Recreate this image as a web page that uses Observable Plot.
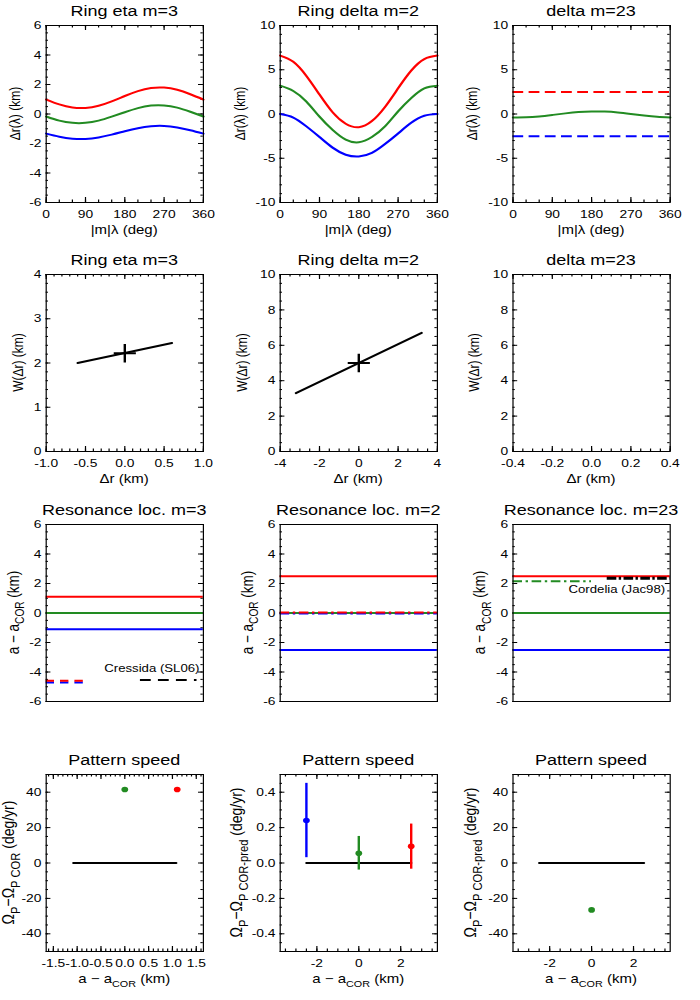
<!DOCTYPE html>
<html><head><meta charset="utf-8">
<script src="https://cdn.jsdelivr.net/npm/d3@7"></script>
<script src="https://cdn.jsdelivr.net/npm/@observablehq/plot@0.6"></script>
<style>
html,body{margin:0;padding:0;background:#fff;overflow:hidden;}
#wrap{position:relative;width:583.333px;height:1000px;transform:scaleX(1.2);transform-origin:0 0;}
#wrap svg{position:absolute;}
</style></head><body><div id="wrap"></div>
<script>
// ---------------- data ----------------
const lam = [0, 30, 60, 90, 120, 150, 180, 210, 240, 270, 300, 330, 360];
// Ring eta m=3 : delta r(lambda)
const etaRed   = [0.98, 0.65, 0.44, 0.41, 0.56, 0.86, 1.22, 1.55, 1.76, 1.79, 1.64, 1.34, 0.98];
const etaGreen = [-0.17, -0.45, -0.60, -0.60, -0.45, -0.18, 0.12, 0.40, 0.57, 0.58, 0.43, 0.15, -0.17];
const etaBlue  = [-1.33, -1.54, -1.67, -1.69, -1.59, -1.40, -1.17, -0.96, -0.83, -0.81, -0.91, -1.10, -1.33];
// Ring delta m=2
const delRed   = [6.6, 5.9, 4.3, 2.2, 0.2, -1.1, -1.5, -0.8, 0.8, 2.9, 4.9, 6.2, 6.6];
const delGreen = [3.2, 2.6, 1.4, -0.3, -1.8, -2.9, -3.2, -2.6, -1.4, 0.3, 1.8, 2.9, 3.2];
const delBlue  = [0.0, -0.4, -1.4, -2.6, -3.8, -4.6, -4.8, -4.4, -3.4, -2.2, -1.0, -0.2, 0.0];
// delta m=23
const m23Green = [-0.39, -0.38, -0.28, -0.11, 0.07, 0.22, 0.29, 0.28, 0.18, 0.01, -0.17, -0.32, -0.39];
const m23Edges = [2.5, -2.5]; // red, blue (dashed)
// W(delta r)
const etaWdr = [-0.6, 0.6], etaW = [2.0, 2.45], etaWc = [0, 2.22];
const delWdr = [-3.2, 3.2], delW = [3.3, 6.7], delWc = [0, 5.0];
// Resonance locations (red, green, blue)
const resEta = [1.1, 0, -1.1];
const resDel = [2.5, 0, -2.5];
const resM23 = [2.5, 0, -2.5];
const cressidaRB = {x: [0, 0.25], y: [-4.6, -4.72]};
const cressidaSat = {x: [0.6, 0.96], y: -4.55, label: "Cressida (SL06)", lx: 0.975, ly: -3.75};
const delDashDot = [0.03, -0.03];
const cordeliaGreen = {x: [0, 0.5], y: 2.15};
const cordeliaSat = {x: [0.6, 1.0], y: 2.35, label: "Cordelia (Jac98)", lx: 0.968, ly: 1.6};
// Pattern speed
const psEtaLine = [-1.08, 1.08];
const psEtaX = [0, 1.1], psEtaY = [41.5, 41.5];
const psDelLine = [-2.5, 2.5];
const psDelX = [-2.5, 0, 2.5], psDelY = [0.24, 0.055, 0.095];
const psDelLo = [0.03, -0.04, -0.035], psDelHi = [0.45, 0.15, 0.22];
const psM23Line = [-2.5, 2.5];
const psM23X = [0], psM23Y = [-26.5];

const RED = "#ff0000", GREEN = "#228b22", BLUE = "#0000ff", BLACK = "#000000";
const COLORS3 = [RED, GREEN, BLUE];
const FONT = "'Liberation Sans', Arial, Helvetica, sans-serif";

// ---------------- layout ----------------
const FW = 131, FH = 177;
const ML = 38, MR = 16, MT = 25, MB = 45;
const colLeft = [37.5, 232.5, 427];
const rowTop = [25, 274, 524, 774];
const wrap = document.getElementById("wrap");

function rich(sel, parts, size, ratio = 0.72) {
  let shifted = 0;
  for (const [t, sub] of parts) {
    const target = sub ? size * 0.35 : 0;
    sel.append("tspan").attr("font-size", sub ? size * ratio : size).attr("dy", target - shifted).text(t);
    shifted = target;
  }
}

function panel(cfg) {
  const marks = [];
  if (cfg.xTicks) {
    for (const [vals, len] of [[cfg.xMinor, 2.5], [cfg.xTicks, 5]]) {
      marks.push(Plot.ruleX(vals, {insetTop: FH - len, stroke: BLACK, strokeWidth: 1}));
      marks.push(Plot.ruleX(vals, {insetBottom: FH - len, stroke: BLACK, strokeWidth: 1}));
    }
    marks.push(Plot.axisX({ticks: cfg.xTicks, tickSize: 0, tickPadding: 7.5, tickFormat: cfg.xFmt || (d => String(d)), label: null}));
  }
  for (const [vals, len] of [[cfg.yMinor, 2], [cfg.yTicks, 4]]) {
    marks.push(Plot.ruleY(vals, {insetLeft: FW - len, stroke: BLACK, strokeWidth: 1}));
    marks.push(Plot.ruleY(vals, {insetRight: FW - len, stroke: BLACK, strokeWidth: 1}));
  }
  marks.push(Plot.axisY({ticks: cfg.yTicks, tickSize: 0, tickPadding: 4, tickFormat: cfg.yFmt || (d => String(d)), label: null}));
  marks.push(...cfg.marks);
  marks.push(Plot.frame({stroke: BLACK, strokeWidth: 1}));
  const svg = Plot.plot({
    width: ML + FW + MR, height: MT + FH + MB,
    marginLeft: ML, marginRight: MR, marginTop: MT, marginBottom: MB,
    x: cfg.xTicks ? {domain: cfg.xDomain} : {domain: cfg.xDomain, axis: null},
    y: {domain: cfg.yDomain},
    color: {type: "identity"},
    style: {fontFamily: FONT, fontSize: "11.5px", background: "transparent", color: "#000", overflow: "visible"},
    marks
  });
  svg.style.left = (colLeft[cfg.col] - ML) + "px";
  svg.style.top = (rowTop[cfg.row] - MT) + "px";
  wrap.appendChild(svg);
  const s = d3.select(svg);
  const g = s.append("g").attr("font-family", FONT).attr("fill", "#000");
  g.append("text").attr("x", ML + FW / 2).attr("y", MT - 9).attr("text-anchor", "middle")
    .attr("font-size", 15).text(cfg.title);
  const yl = g.append("text").attr("text-anchor", "middle").style("white-space", "pre")
    .attr("transform", `translate(${ML + cfg.yOff},${MT + FH / 2}) rotate(-90)`);
  rich(yl, cfg.yLabel, cfg.yFont || 12, cfg.subRatio || 0.72);
  if (cfg.xLabel) {
    const xl = g.append("text").attr("text-anchor", "middle").style("white-space", "pre")
      .attr("x", ML + FW / 2).attr("y", MT + FH + 32);
    rich(xl, cfg.xLabel, 12.5);
  }
}

const rng = (a, b, s) => d3.range(0, Math.round((b - a) / s) + 1).map(i => +(a + i * s).toFixed(6));
const f1 = d => d.toFixed(1);
const curve = (ys, c) => lam.map((x, i) => ({x, y: ys[i], c}));
const line2 = (xs, ys, c) => xs.map((x, i) => ({x, y: ys[i], c}));

// Row 1
const row1X = {xDomain: [0, 360], xTicks: [0, 90, 180, 270, 360], xMinor: rng(0, 360, 30), xLabel: [["|m|λ (deg)"]]};
panel({...row1X, col: 0, row: 0, title: "Ring eta m=3", yDomain: [-6, 6], yTicks: rng(-6, 6, 2), yMinor: rng(-6, 6, 0.5),
  yLabel: [["Δr(λ) (km)"]], yOff: -21,
  marks: [[etaRed, RED], [etaGreen, GREEN], [etaBlue, BLUE]].map(([ys, c]) =>
    Plot.line(curve(ys, c), {x: "x", y: "y", stroke: "c", strokeWidth: 2, curve: "natural"}))});
panel({...row1X, col: 1, row: 0, title: "Ring delta m=2", yDomain: [-10, 10], yTicks: rng(-10, 10, 5), yMinor: rng(-10, 10, 1),
  yLabel: [["Δr(λ) (km)"]], yOff: -29,
  marks: [[delRed, RED], [delGreen, GREEN], [delBlue, BLUE]].map(([ys, c]) =>
    Plot.line(curve(ys, c), {x: "x", y: "y", stroke: "c", strokeWidth: 2, curve: "natural"}))});
panel({...row1X, col: 2, row: 0, title: "delta m=23", yDomain: [-10, 10], yTicks: rng(-10, 10, 5), yMinor: rng(-10, 10, 1),
  yLabel: [["Δr(λ) (km)"]], yOff: -29.5,
  marks: [
    Plot.ruleY(m23Edges.map((y, i) => ({y, c: [RED, BLUE][i]})), {y: "y", stroke: "c", strokeWidth: 2, strokeDasharray: "9,4.5"}),
    Plot.line(curve(m23Green, GREEN), {x: "x", y: "y", stroke: "c", strokeWidth: 2, curve: "natural"})
  ]});

// Row 2
panel({col: 0, row: 1, title: "Ring eta m=3", xDomain: [-1, 1], xTicks: rng(-1, 1, 0.5), xMinor: rng(-1, 1, 0.1), xFmt: f1,
  yDomain: [0, 4], yTicks: rng(0, 4, 1), yMinor: rng(0, 4, 0.2), yLabel: [["W(Δr) (km)"]], yOff: -19, xLabel: [["Δr (km)"]],
  marks: [
    Plot.line(line2(etaWdr, etaW, BLACK), {x: "x", y: "y", stroke: "c", strokeWidth: 2}),
    Plot.dot([{x: etaWc[0], y: etaWc[1]}], {x: "x", y: "y", symbol: "plus", r: 6, stroke: BLACK, strokeWidth: 2})
  ]});
panel({col: 1, row: 1, title: "Ring delta m=2", xDomain: [-4, 4], xTicks: rng(-4, 4, 2), xMinor: rng(-4, 4, 0.5),
  yDomain: [0, 10], yTicks: rng(0, 10, 2), yMinor: rng(0, 10, 0.5), yLabel: [["W(Δr) (km)"]], yOff: -27.5, xLabel: [["Δr (km)"]],
  marks: [
    Plot.line(line2(delWdr, delW, BLACK), {x: "x", y: "y", stroke: "c", strokeWidth: 2}),
    Plot.dot([{x: delWc[0], y: delWc[1]}], {x: "x", y: "y", symbol: "plus", r: 6, stroke: BLACK, strokeWidth: 2})
  ]});
panel({col: 2, row: 1, title: "delta m=23", xDomain: [-0.4, 0.4], xTicks: rng(-0.4, 0.4, 0.2), xMinor: rng(-0.4, 0.4, 0.05), xFmt: f1,
  yDomain: [0, 10], yTicks: rng(0, 10, 2), yMinor: rng(0, 10, 0.5), yLabel: [["W(Δr) (km)"]], yOff: -27.5, xLabel: [["Δr (km)"]],
  marks: []});

// Row 3
const row3 = {xDomain: [0, 1], yDomain: [-6, 6], yTicks: rng(-6, 6, 2), yMinor: rng(-6, 6, 0.5), yLabel: [["a − a"], ["COR", true], [" (km)"]], yOff: -22.5, yFont: 13.5, subRatio: 0.75};
const resRules = vals => Plot.ruleY(vals.map((y, i) => ({y, c: COLORS3[i]})), {y: "y", stroke: "c", strokeWidth: 2});
panel({...row3, col: 0, row: 2, title: "Resonance loc. m=3",
  marks: [
    resRules(resEta),
    Plot.ruleY([{y: cressidaRB.y[1], c: BLUE}, {y: cressidaRB.y[0], c: RED}], {y: "y", x1: cressidaRB.x[0], x2: cressidaRB.x[1], stroke: "c", strokeWidth: 2, strokeDasharray: "7,5"}),
    Plot.ruleY([cressidaSat.y], {x1: cressidaSat.x[0], x2: cressidaSat.x[1], stroke: BLACK, strokeWidth: 2, strokeDasharray: "9,6"}),
    Plot.text([cressidaSat], {x: "lx", y: "ly", text: "label", textAnchor: "end", fontSize: 11})
  ]});
panel({...row3, col: 1, row: 2, title: "Resonance loc. m=2",
  marks: [
    resRules(resDel),
    Plot.ruleY([{y: delDashDot[1], c: BLUE}, {y: delDashDot[0], c: RED}], {y: "y", stroke: "c", strokeWidth: 2, strokeDasharray: "8,3,2,3"})
  ]});
panel({...row3, col: 2, row: 2, title: "Resonance loc. m=23",
  marks: [
    resRules(resM23),
    Plot.ruleY([cordeliaGreen.y], {x1: cordeliaGreen.x[0], x2: cordeliaGreen.x[1], stroke: GREEN, strokeWidth: 2, strokeDasharray: "8,3,2,3"}),
    Plot.ruleY([cordeliaSat.y], {x1: cordeliaSat.x[0], x2: cordeliaSat.x[1], stroke: BLACK, strokeWidth: 3, strokeDasharray: "8,2,2,2"}),
    Plot.text([cordeliaSat], {x: "lx", y: "ly", text: "label", textAnchor: "end", fontSize: 11})
  ]});

// Row 4
const psLabel = [["a − a"], ["COR", true], [" (km)"]];
panel({col: 0, row: 3, title: "Pattern speed", xDomain: [-1.65, 1.65], xTicks: rng(-1.5, 1.5, 0.5), xMinor: rng(-1.6, 1.6, 0.1), xFmt: f1,
  yDomain: [-50, 50], yTicks: rng(-40, 40, 20), yMinor: rng(-50, 50, 5),
  yLabel: [["Ω"], ["P", true], ["−Ω"], ["P COR", true], [" (deg/yr)"]], yOff: -26.5, yFont: 14, subRatio: 0.8, xLabel: psLabel,
  marks: [
    Plot.line(psEtaLine.map(x => ({x, y: 0})), {x: "x", y: "y", stroke: BLACK, strokeWidth: 2}),
    Plot.dot(line2(psEtaX, psEtaY, null).map((d, i) => ({...d, c: [GREEN, RED][i]})), {x: "x", y: "y", r: 2.8, fill: "c", stroke: "none"})
  ]});
panel({col: 1, row: 3, title: "Pattern speed", xDomain: [-3.75, 3.75], xTicks: [-2, 0, 2], xMinor: rng(-3.5, 3.5, 0.5),
  yDomain: [-0.5, 0.5], yTicks: rng(-0.4, 0.4, 0.2), yMinor: rng(-0.5, 0.5, 0.05), yFmt: f1,
  yLabel: [["Ω"], ["P", true], ["−Ω"], ["P COR-pred", true], [" (deg/yr)"]], yOff: -31, yFont: 14, subRatio: 0.8, xLabel: psLabel,
  marks: [
    Plot.line(psDelLine.map(x => ({x, y: 0})), {x: "x", y: "y", stroke: BLACK, strokeWidth: 2}),
    Plot.ruleX(psDelX.map((x, i) => ({x, lo: psDelLo[i], hi: psDelHi[i], c: [BLUE, GREEN, RED][i]})), {x: "x", y1: "lo", y2: "hi", stroke: "c", strokeWidth: 2}),
    Plot.dot(psDelX.map((x, i) => ({x, y: psDelY[i], c: [BLUE, GREEN, RED][i]})), {x: "x", y: "y", r: 2.8, fill: "c", stroke: "none"})
  ]});
panel({col: 2, row: 3, title: "Pattern speed", xDomain: [-3.75, 3.75], xTicks: [-2, 0, 2], xMinor: rng(-3.5, 3.5, 0.5),
  yDomain: [-50, 50], yTicks: rng(-40, 40, 20), yMinor: rng(-50, 50, 5),
  yLabel: [["Ω"], ["P", true], ["−Ω"], ["P COR-pred", true], [" (deg/yr)"]], yOff: -30, yFont: 14, subRatio: 0.8, xLabel: psLabel,
  marks: [
    Plot.line(psM23Line.map(x => ({x, y: 0})), {x: "x", y: "y", stroke: BLACK, strokeWidth: 2}),
    Plot.dot(psM23X.map((x, i) => ({x, y: psM23Y[i], c: GREEN})), {x: "x", y: "y", r: 2.8, fill: "c", stroke: "none"})
  ]});
</script>
</body></html>
